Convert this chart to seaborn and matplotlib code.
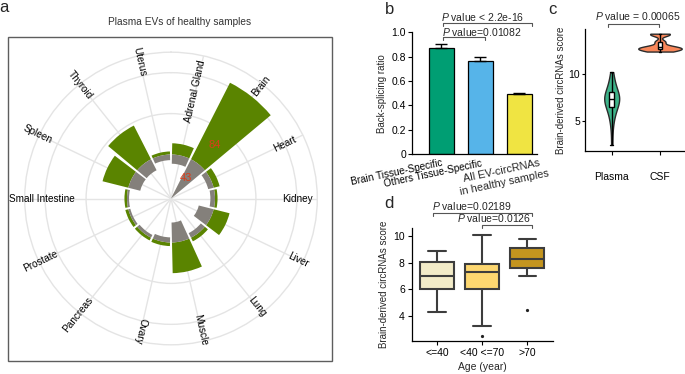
import numpy as np
import pandas as pd
import matplotlib
matplotlib.use("Agg")
import matplotlib.pyplot as plt
import matplotlib.transforms as mtransforms
from matplotlib.patches import Rectangle
import seaborn as sns

# ---------------- data ----------------
tissues = ["Adrenal Gland", "Brain", "Heart", "Kidney", "Liver", "Lung", "Muscle",
           "Ovary", "Pancreas", "Prostate", "Small Intestine", "Spleen", "Thyroid", "Uterus"]
inner_counts = [9, 43, 5.5, 4.5, 15, 5, 19.5, 5, 3, 2, 2, 12, 12, 5.5]     # grey, drawn inward
outer_counts = [11, 84, 6, 2.5, 16, 4, 30, 3.5, 3, 3, 2.5, 26, 37, 3]      # green, drawn outward
brain_labels = ["43", "84"]

bs_groups = ["Brain Tissue-Specific", "Others Tissue-Specific", "All EV-circRNAs\nin healthy samples"]
bs_ratio = [0.87, 0.765, 0.497]
bs_err = [0.03, 0.03, 0.004]

plasma_scores = [2.5, 4.0, 4.9, 5.3, 5.7, 6.0, 6.2, 6.4, 6.6, 6.8, 6.9, 7.0, 7.1, 7.2, 7.3,
                 7.35, 7.45, 7.55, 7.65, 7.75, 7.85, 7.95, 8.1, 8.25, 8.45, 8.7, 9.0, 9.35, 9.8, 10.2]
csf_scores = [12.4, 12.55, 12.65, 12.75, 12.85, 12.95, 13.45, 14.2, 14.3]

age_groups = ["<=40", "<40 <=70", ">70"]
age_young = [4.3, 5.5, 6.0, 6.5, 7.0, 7.6, 8.05, 8.4, 8.85]
age_mid = [2.5, 3.23, 6.0, 6.6, 7.26, 7.6, 7.88, 9.0, 10.05]
age_old = [4.43, 7.0, 7.6, 8.0, 8.3, 8.7, 9.1, 9.4, 9.8]

# ---------------- style ----------------
sns.set_style("ticks")
plt.rcParams["font.family"] = ["Liberation Sans", "DejaVu Sans"]
plt.rcParams["mathtext.fontset"] = "custom"
plt.rcParams["mathtext.it"] = "Liberation Sans:italic"
plt.rcParams["mathtext.rm"] = "Liberation Sans"
plt.rcParams["axes.linewidth"] = 0.9
plt.rcParams["axes.edgecolor"] = "black"
plt.rcParams["xtick.color"] = "black"
plt.rcParams["ytick.color"] = "black"

W, H = 685, 374
fig = plt.figure(figsize=(6.85, 3.74), dpi=100)


def fx(px):
    return px / W


def fy(py):
    return 1 - py / H


# ---------------- panel a: polar ----------------
fig.patches.append(Rectangle((fx(8.3), fy(360.7)), (332.3 - 8.3) / W, (360.7 - 37.3) / H,
                             transform=fig.transFigure, fill=False,
                             edgecolor="#5e5e5e", lw=1.0))
cx, cy, R = 171, 198.5, 146.3
axp = fig.add_axes([fx(cx - R), fy(cy + R), 2 * R / W, 2 * R / H], projection="polar")
axp.set_theta_zero_location("N")
axp.set_theta_direction(-1)
n = len(tissues)
step = 2 * np.pi / n
theta = np.arange(n) * step + step / 2
inner = np.array(inner_counts, dtype=float)
axp.bar(theta, outer_counts, width=0.9 * step, bottom=0, color="#5a8400", linewidth=0, zorder=3)
axp.bar(theta, inner, width=0.9 * step, bottom=-inner, color="#84807b", linewidth=0, zorder=3)
axp.set_rlim(-43, 100)
axp.set_xticks(theta)
axp.set_xticklabels([])
axp.set_yticks([40, 80])
axp.set_yticklabels([])
axp.grid(True, color="#e4e4e4", lw=1.0)
axp.spines["polar"].set_color("#e4e4e4")
axp.spines["polar"].set_linewidth(1.0)
axp.tick_params(length=0)

px_per_unit = 44 / 43.0
label_r_px = [109.5, 144.5, 126, 126, 141, 138.6, 135, 136, 149, 144.5, 129, 148, 145.6, 140]
for i, (t, lab) in enumerate(zip(theta, tissues)):
    deg = np.degrees(t)
    rot = 90 - deg
    if i >= 8:
        rot += 180
    r = label_r_px[i] / px_per_unit - 43
    axp.text(t, r, lab, rotation=rot, rotation_mode="anchor", ha="center", va="center",
             fontsize=7.2, color="black", clip_on=False)
axp.text(theta[1] - 0.035, 25 / px_per_unit - 43, brain_labels[0], ha="center", va="center",
         fontsize=8, color="#db3d1a", zorder=5)
axp.text(theta[1] + 0.01, 69 / px_per_unit - 43, brain_labels[1], ha="center", va="center",
         fontsize=8, color="#db3d1a", zorder=5)
fig.text(fx(180), fy(22.3), "Plasma EVs of healthy samples", ha="center", va="center",
         fontsize=7.3, color="#333333")

# ---------------- panel b: bars ----------------
axb = fig.add_axes([fx(411.7), fy(154), (537 - 411.7) / W, (154 - 32.3) / H])
df_b = pd.DataFrame({"group": bs_groups, "ratio": bs_ratio})
sns.barplot(data=df_b, x="group", y="ratio", hue="group",
            palette=["#009E73", "#56B4E9", "#F0E442"], width=0.64, saturation=1,
            edgecolor="black", linewidth=0.9, legend=False, ax=axb)
axb.errorbar(range(3), bs_ratio, yerr=[np.zeros(3), bs_err], fmt="none", ecolor="black",
             elinewidth=1, capsize=4, capthick=1)
axb.set_xlim(-0.764, 2.45)
axb.set_ylim(0, 1.0)
axb.set_yticks([0, 0.2, 0.4, 0.6, 0.8, 1.0])
axb.set_yticklabels(["0", "0.2", "0.4", "0.6", "0.8", "1.0"], fontsize=7.5)
axb.set_xlabel("")
axb.set_ylabel("Back-splicing ratio", fontsize=7, labelpad=3)
axb.set_xticks(range(3))
axb.set_xticklabels([bs_groups[0], bs_groups[1], ""], rotation=12, ha="right",
                    rotation_mode="anchor", fontsize=7.2)
axb.text(2, 0, bs_groups[2], rotation=12, rotation_mode="anchor", ha="right", va="top",
         fontsize=7.8, multialignment="center",
         transform=axb.transData + mtransforms.ScaledTranslation(0.26, -0.03,
                                                                 fig.dpi_scale_trans))
axb.tick_params(axis="x", length=0, pad=3)
axb.tick_params(axis="y", length=3, width=0.8, pad=1)
sns.despine(ax=axb)


def bracket(ax, x1, x2, y, drop, text, tx, ty, fs=7.5):
    ax.plot([x1, x1, x2, x2], [y - drop, y, y, y - drop], color="#555555", lw=0.8,
            clip_on=False)
    ax.text(tx, ty, text, ha="center", va="baseline", fontsize=fs)


bracket(axb, 0.046, 2.31, 1.074, 0.025, r"$\it{P}$ value < 2.2e-16", 1.06, 1.089)
bracket(axb, 0.046, 1.115, 0.959, 0.022, r"$\it{P}$ value=0.01082", 1.03, 0.966)

# ---------------- panel c: violins ----------------
axc = fig.add_axes([fx(585), fy(150.7), (685 - 585) / W, (150.7 - 29) / H])
src_order = ["Plasma", "CSF"]
sns.violinplot(x=["Plasma"] * len(plasma_scores), y=plasma_scores, order=src_order,
               color="#3db389", saturation=1, linecolor="#2b2b2b", linewidth=1, inner=None,
               cut=0, width=0.31, density_norm="width", ax=axc)
sns.violinplot(x=["CSF"] * len(csf_scores), y=csf_scores, order=src_order,
               color="#f8875a", saturation=1, linecolor="#2b2b2b", linewidth=1, inner=None,
               cut=0, width=0.9, density_norm="width", bw_adjust=0.45, ax=axc)
df_c = pd.DataFrame({"src": ["Plasma"] * len(plasma_scores) + ["CSF"] * len(csf_scores),
                     "score": plasma_scores + csf_scores})
sns.boxplot(data=df_c, x="src", y="score", order=src_order, width=0.1, color="white",
            saturation=1, linecolor="black", linewidth=1, showfliers=False, whis=(0, 100),
            ax=axc)
axc.set_xlim(-0.553, 1.518)
axc.set_ylim(1.85, 14.8)
axc.set_yticks([5, 10])
axc.set_yticklabels(["5", "10"], fontsize=7.5)
axc.set_xticks([0, 1])
axc.set_xticklabels(src_order, fontsize=7.5)
axc.set_xlabel("")
axc.set_ylabel("Brain-derived circRNAs score", fontsize=7, labelpad=2)
axc.tick_params(axis="x", length=3, width=0.8, pad=12)
axc.tick_params(axis="y", length=2.5, width=0.8, pad=1)
sns.despine(ax=axc)
bracket(axc, -0.077, 0.98, 15.32, 0.35, r"$\it{P}$ value = 0.00065", 0.534, 15.78)

# ---------------- panel d: boxplots ----------------
axd = fig.add_axes([fx(411.7), fy(341), (553.3 - 411.7) / W, (341 - 228) / H])
df_d = pd.DataFrame({"age": [age_groups[0]] * len(age_young) + [age_groups[1]] * len(age_mid)
                     + [age_groups[2]] * len(age_old),
                     "score": age_young + age_mid + age_old})
sns.boxplot(data=df_d, x="age", y="score", hue="age", order=age_groups, hue_order=age_groups,
            palette=["#f2ebc8", "#fdd770", "#c4951f"], saturation=1, width=0.76,
            linecolor="#3d3d3d", linewidth=1.5, legend=False,
            flierprops=dict(marker="o", markersize=1.3, markerfacecolor="#222222",
                            markeredgecolor="#222222"), ax=axd)
axd.set_xlim(-0.56, 2.58)
axd.set_ylim(2.1, 10.6)
axd.set_yticks([4, 6, 8, 10])
axd.set_yticklabels(["4", "6", "8", "10"], fontsize=7.5)
axd.set_xticks([0, 1, 2])
axd.set_xticklabels(age_groups, fontsize=7.5)
axd.set_xlabel("Age (year)", fontsize=7.5, labelpad=3)
axd.set_ylabel("Brain-derived circRNAs score", fontsize=7, labelpad=3)
axd.tick_params(axis="both", length=3, width=0.8, pad=2)
sns.despine(ax=axd)
bracket(axd, -0.082, 2.104, 11.73, 0.25, r"$\it{P}$ value=0.02189", 0.77, 11.98)
bracket(axd, 0.99, 2.1, 10.86, 0.26, r"$\it{P}$ value=0.0126", 1.27, 11.05)

# ---------------- panel letters ----------------
for txt, x, y in [("a", 4, 8), ("b", 390, 10), ("c", 552, 10), ("d", 389, 204)]:
    fig.text(fx(x), fy(y), txt, fontsize=12, ha="center", va="center")

fig.savefig("out.png", dpi=100)
